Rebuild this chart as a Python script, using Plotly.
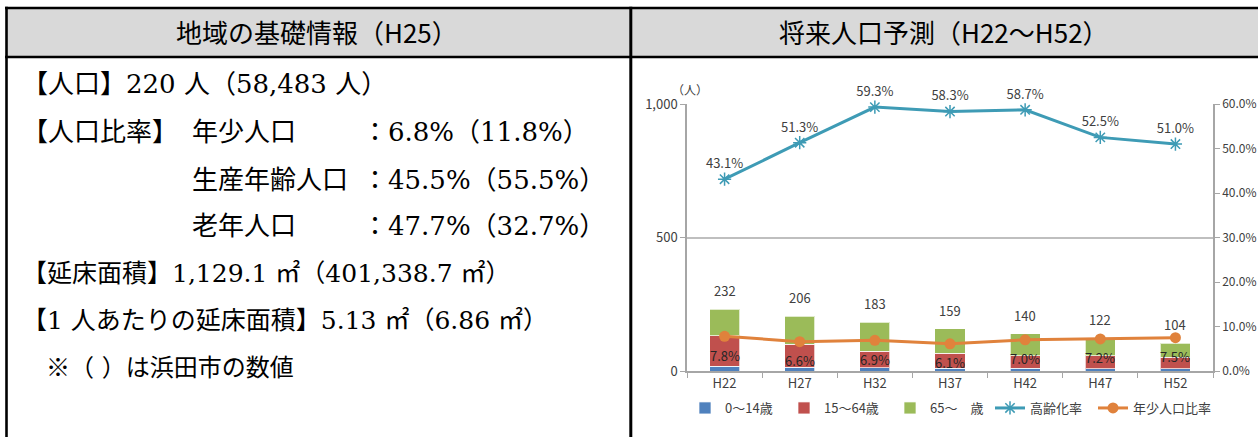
import plotly.graph_objects as go

W, H = 1258, 437

# ---------------- data ----------------
categories = ["H22", "H27", "H32", "H37", "H42", "H47", "H52"]
age_0_14 = [18, 14, 13, 10, 10, 9, 8]
age_15_64 = [114, 86, 61, 56, 48, 49, 43]
age_65_over = [100, 106, 109, 93, 82, 64, 53]
totals = [232, 206, 183, 159, 140, 122, 104]
aging_rate = [0.431, 0.513, 0.593, 0.583, 0.587, 0.525, 0.510]
youth_rate = [0.078, 0.066, 0.069, 0.061, 0.070, 0.072, 0.075]

series_names = ["0～14歳", "15～64歳", "65～　歳", "高齢化率", "年少人口比率"]

left_title = "地域の基礎情報（H25）"
right_title = "将来人口予測（H22～H52）"

info_rows = [
    ["【人口】220 人（58,483 人）"],
    ["【人口比率】", "年少人口", "：6.8%（11.8%）"],
    ["", "生産年齢人口", "：45.5%（55.5%）"],
    ["", "老年人口", "：47.7%（32.7%）"],
    ["【延床面積】1,129.1 ㎡（401,338.7 ㎡）"],
    ["【1 人あたりの延床面積】5.13 ㎡（6.86 ㎡）"],
]
note_text = "※（ ）は浜田市の数値"


def px(x):
    return x / W


def py(y):
    return 1 - y / H


CJK = "Noto Sans CJK JP"
SERIF = "DejaVu Serif, Noto Sans CJK JP"
TXT = "#404040"

legend_ids = ["legend", "legend2", "legend3", "legend4", "legend5"]
legend_text_x = [723, 822, 928, 1028, 1131]

fig = go.Figure()

bar_colors = ["#4F81BD", "#C0504D", "#9BBB59"]
for i, (name, vals, col) in enumerate(zip(series_names[:3], [age_0_14, age_15_64, age_65_over], bar_colors)):
    fig.add_trace(go.Bar(
        x=categories, y=vals, name=name, marker_color=col,
        marker_line=dict(color="rgba(255,255,255,0.7)", width=1),
        width=0.4, yaxis="y", xaxis="x", legend=legend_ids[i],
    ))

fig.add_trace(go.Scatter(
    x=categories, y=aging_rate, name=series_names[3], yaxis="y2",
    mode="lines+markers+text", legend=legend_ids[3],
    line=dict(color="#3E9BB5", width=3),
    marker=dict(symbol="asterisk-open", size=11, color="#3E9BB5",
                line=dict(color="#3E9BB5", width=1.5)),
    text=[f"{v*100:.1f}%" for v in aging_rate], textposition="top center",
    textfont=dict(size=13, color=TXT, family=CJK), cliponaxis=False,
))

fig.add_trace(go.Scatter(
    x=categories, y=youth_rate, name=series_names[4], yaxis="y2",
    mode="lines+markers", legend=legend_ids[4],
    line=dict(color="#E0823C", width=3),
    marker=dict(symbol="circle", size=11, color="#E0823C"),
    cliponaxis=False,
))

shapes = []
# header background
shapes.append(dict(type="rect", xref="paper", yref="paper",
                   x0=px(6), x1=px(1260), y0=py(57), y1=py(8),
                   fillcolor="#D9D9D9", line=dict(width=0), layer="below"))
# borders (black bands)
for (x0, x1, y0, y1) in [
    (5, 1260, 6.7, 9.2),      # top
    (5, 1260, 55.8, 58.3),    # header bottom
    (5.2, 7.8, 6.7, 440),     # left
    (629.3, 632.3, 6.7, 440), # middle
]:
    shapes.append(dict(type="rect", xref="paper", yref="paper",
                       x0=px(x0), x1=px(x1), y0=py(y1), y1=py(y0),
                       fillcolor="black", line=dict(width=0), layer="above"))

annotations = []
annotations.append(dict(text=left_title, xref="paper", yref="paper",
                        x=px(317), y=py(32), xanchor="center", yanchor="middle",
                        showarrow=False, font=dict(size=26, color="black", family=CJK)))
annotations.append(dict(text=right_title, xref="paper", yref="paper",
                        x=px(944), y=py(32), xanchor="center", yanchor="middle",
                        showarrow=False, font=dict(size=26, color="black", family=CJK)))

row_y = [84, 132, 180, 226, 273, 320]
row_size = [26, 26, 26, 26, 25, 25]
col_x = [20, 190, 360]
for yy, fs, row in zip(row_y, row_size, info_rows):
    for j, t in enumerate(row):
        if not t:
            continue
        annotations.append(dict(text=t, xref="paper", yref="paper",
                                x=px(col_x[j]), y=py(yy), xanchor="left", yanchor="middle",
                                showarrow=False,
                                font=dict(size=fs, color="black", family=SERIF)))
annotations.append(dict(text=note_text, xref="paper", yref="paper",
                        x=px(44), y=py(368), xanchor="left", yanchor="middle",
                        showarrow=False, font=dict(size=24, color="black", family=SERIF)))

annotations.append(dict(text="（人）", xref="paper", yref="paper",
                        x=px(690), y=py(89), xanchor="center", yanchor="middle",
                        showarrow=False, font=dict(size=12, color=TXT, family=CJK)))

# total labels above stacked bars
for c, t in zip(categories, totals):
    annotations.append(dict(text=str(t), x=c, y=t, xref="x", yref="y",
                            xanchor="center", yanchor="bottom", yshift=7,
                            showarrow=False, font=dict(size=13, color=TXT, family=CJK)))
# youth-ratio labels below points
for c, v in zip(categories, youth_rate):
    annotations.append(dict(text=f"{v*100:.1f}%", x=c, y=v, xref="x", yref="y2",
                            xanchor="center", yanchor="middle", yshift=-19,
                            showarrow=False, font=dict(size=13, color="#262626", family=CJK)))

legend_layout = {}
for lid, tx in zip(legend_ids, legend_text_x):
    legend_layout[lid] = dict(orientation="h", x=px(tx - 38), y=py(408),
                              xanchor="left", yanchor="middle",
                              font=dict(size=13, color=TXT, family=CJK),
                              itemwidth=30, bgcolor="rgba(0,0,0,0)")

axis_col = "#A6A6A6"
fig.update_layout(
    width=W, height=H,
    margin=dict(l=0, r=0, t=0, b=0, autoexpand=False),
    paper_bgcolor="white", plot_bgcolor="white",
    barmode="stack",
    showlegend=True,
    xaxis=dict(domain=[px(687), px(1213)], type="category", range=[-0.5, 6.5],
               showline=True, linecolor=axis_col, linewidth=1.5,
               ticks="outside", tickson="boundaries", ticklen=5, tickcolor=axis_col,
               tickfont=dict(size=13, color=TXT, family=CJK), showgrid=False,
               anchor="y"),
    yaxis=dict(domain=[py(371), py(104)], range=[0, 1000], dtick=500, tickformat=",",
               showgrid=True, gridcolor="#BFBFBF", gridwidth=1.5, zeroline=False,
               showline=True, linecolor=axis_col, linewidth=1.5,
               ticks="outside", ticklen=5, tickcolor=axis_col,
               tickfont=dict(size=13, color=TXT, family=CJK)),
    yaxis2=dict(overlaying="y", side="right", range=[0, 0.6], dtick=0.1, tickformat=".1%",
                showgrid=False, zeroline=False,
                showline=True, linecolor=axis_col, linewidth=1.5,
                ticks="outside", ticklen=5, tickcolor=axis_col,
                tickfont=dict(size=12, color=TXT, family=CJK), anchor="x"),
    shapes=shapes,
    annotations=annotations,
    **legend_layout,
)

fig.write_html("out.html", config={"displayModeBar": False},
               post_script="document.body.style.margin='0';")
